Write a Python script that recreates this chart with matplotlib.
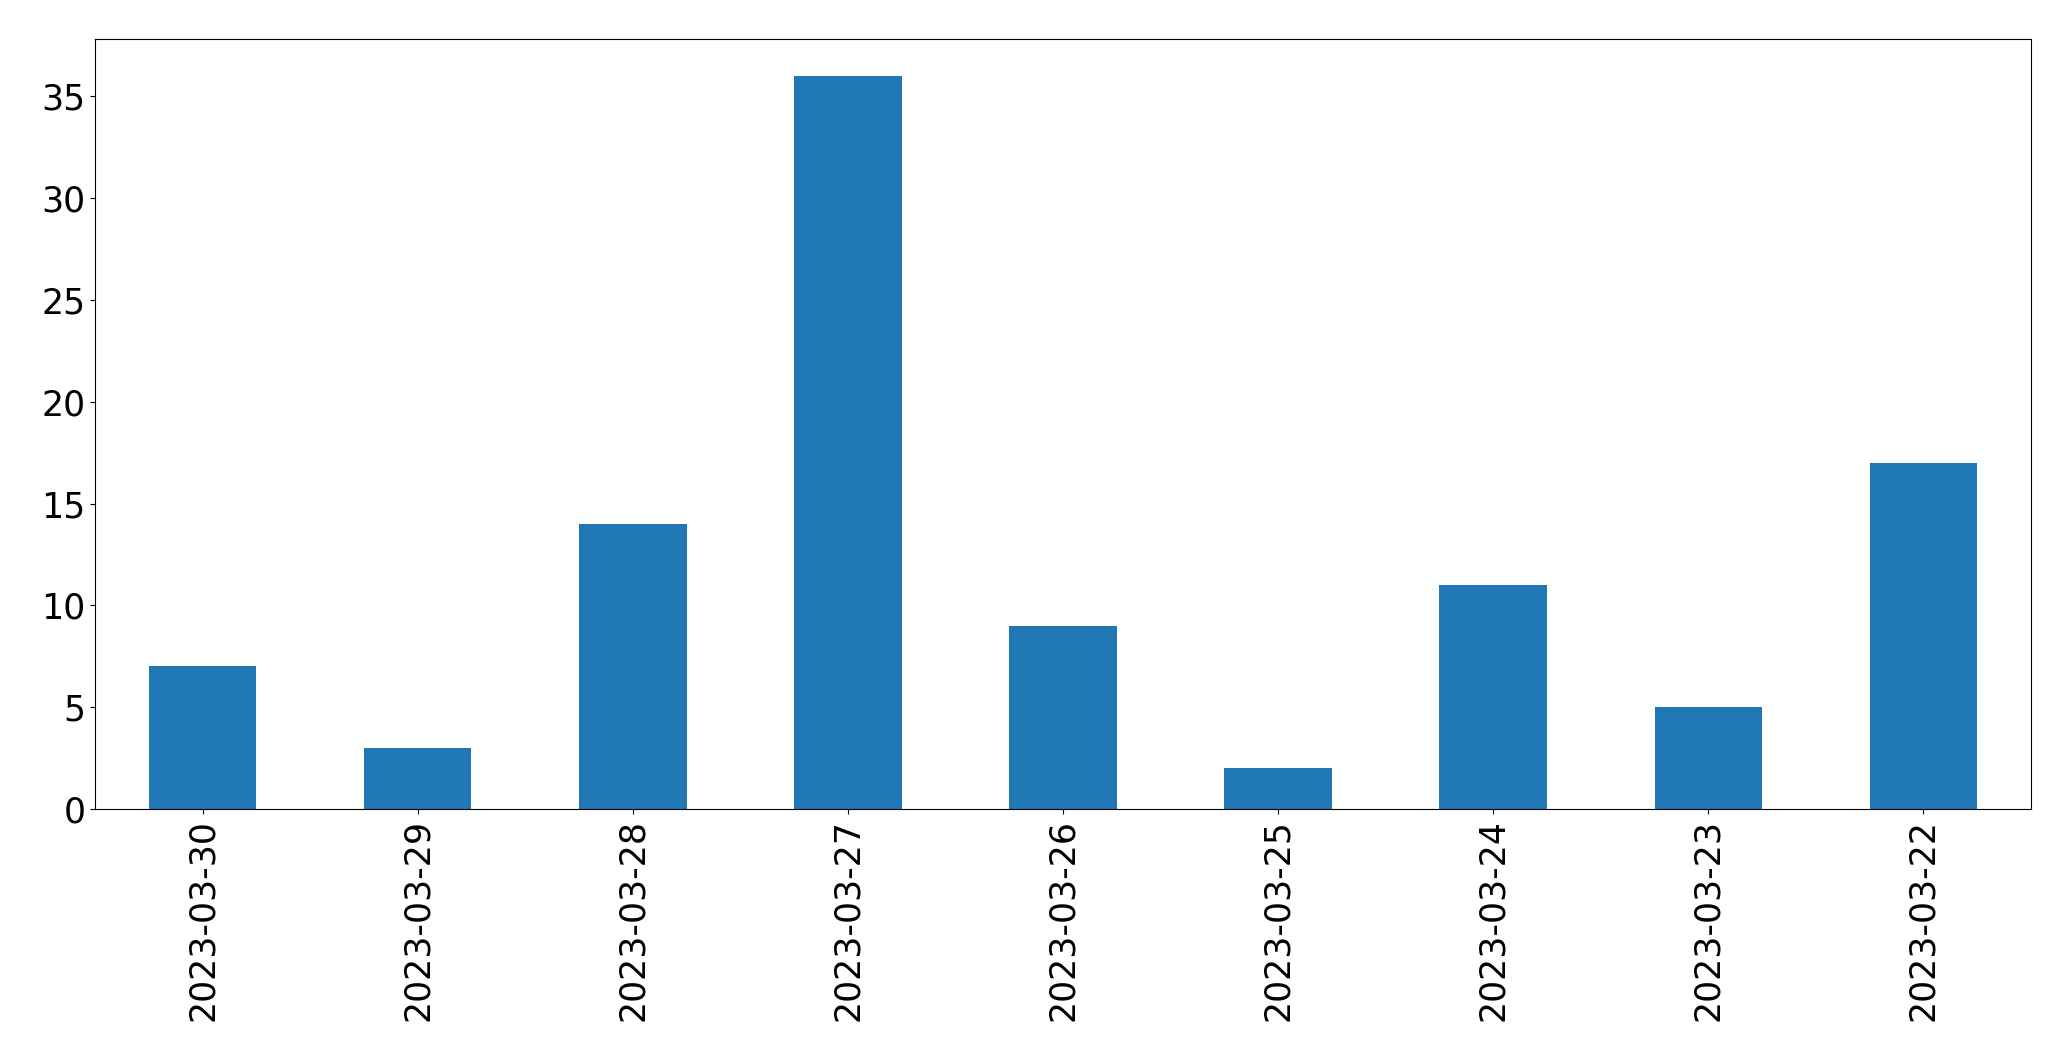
import matplotlib
matplotlib.use("Agg")
import matplotlib.pyplot as plt
import pandas as pd

dates = ["2023-03-30", "2023-03-29", "2023-03-28", "2023-03-27", "2023-03-26",
         "2023-03-25", "2023-03-24", "2023-03-23", "2023-03-22"]
counts = [7, 3, 14, 36, 9, 2, 11, 5, 17]

s = pd.Series(counts, index=dates)

fig = plt.figure(figsize=(20.71, 10.61), dpi=100)
ax = fig.add_subplot(111)
s.plot(kind="bar", ax=ax, color="#1f77b4")
ax.tick_params(axis="both", labelsize=25)
fig.subplots_adjust(left=0.0459, right=0.9807, top=0.963, bottom=0.2375)
fig.savefig("out.png", dpi=100)
